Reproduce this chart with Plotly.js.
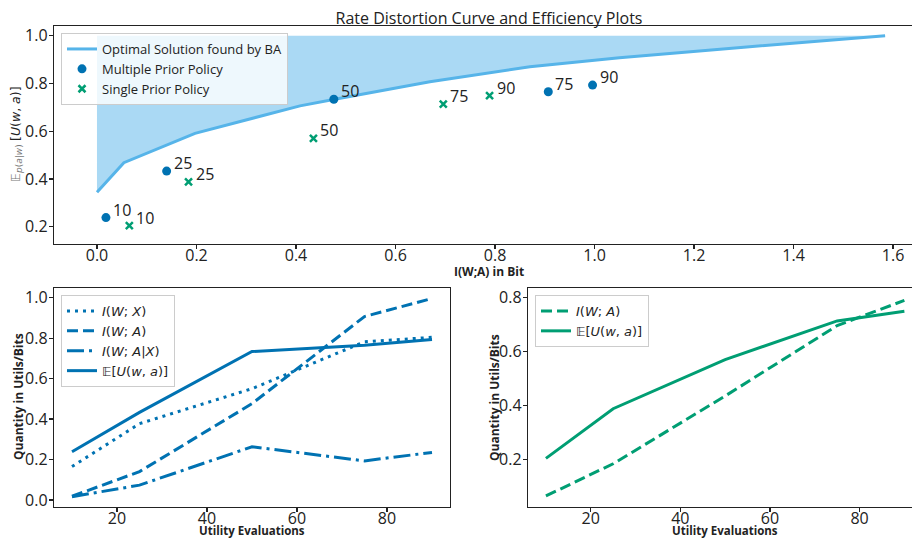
<!DOCTYPE html>
<html><head><meta charset="utf-8">
<script src="https://cdn.plot.ly/plotly-3.0.1.min.js"></script>
<style>html,body{margin:0;padding:0;background:#fff}#chart{width:912px;height:539px}</style>
</head><body><div id="chart"></div>
<script>
// ---- data ----
const baX = [0, 0.054, 0.197, 0.408, 0.478, 0.669, 0.870, 1.05, 1.30, 1.584];
const baY = [0.344, 0.468, 0.591, 0.706, 0.734, 0.807, 0.870, 0.908, 0.952, 1.0];
const fillTop = 1.0;
const evals = [10, 25, 50, 75, 90];
const evalLabels = ['10', '25', '50', '75', '90'];
const multiIWA = [0.018, 0.140, 0.476, 0.907, 0.996];
const multiEU = [0.238, 0.433, 0.734, 0.765, 0.793];
const multiIWX = [0.165, 0.377, 0.55, 0.782, 0.804];
const multiIWAgX = [0.016, 0.073, 0.263, 0.193, 0.235];
const singleIWA = [0.065, 0.184, 0.435, 0.696, 0.789];
const singleEU = [0.204, 0.388, 0.570, 0.713, 0.749];

const BLUE = '#0072B2', GREEN = '#009E73', SKY = '#56B4E9';
const FONT = "'Open Sans', 'Noto Sans', sans-serif";
const MATH = "'DejaVu Sans', sans-serif";
const INK = '#222222';
const W = 912, H = 539;
const px = v => v / W, py = v => 1 - v / H;

const traces = [
  {x: baX, y: baX.map(() => fillTop), mode: 'lines', line: {width: 0, color: SKY}, showlegend: false, hoverinfo: 'skip', xaxis: 'x', yaxis: 'y'},
  {x: baX, y: baY, mode: 'lines', fill: 'tonexty', fillcolor: 'rgba(86,180,233,0.5)', line: {width: 0, color: SKY}, showlegend: false, hoverinfo: 'skip', xaxis: 'x', yaxis: 'y'},
  {x: baX, y: baY, mode: 'lines', line: {color: SKY, width: 3}, name: 'Optimal Solution found by BA', xaxis: 'x', yaxis: 'y', legend: 'legend'},
  {x: multiIWA, y: multiEU, mode: 'markers', marker: {color: BLUE, size: 9, symbol: 'circle'}, name: 'Multiple Prior Policy', xaxis: 'x', yaxis: 'y', legend: 'legend'},
  {x: singleIWA, y: singleEU, mode: 'markers', marker: {color: GREEN, size: 7, symbol: 'x-thin', line: {color: GREEN, width: 2.5}}, name: 'Single Prior Policy', xaxis: 'x', yaxis: 'y', legend: 'legend'},

  {x: evals, y: multiIWX, mode: 'lines', line: {color: BLUE, width: 3, dash: '3px,5px'}, name: '<i>I</i>(<i>W</i>; <i>X</i>)', xaxis: 'x2', yaxis: 'y2', legend: 'legend2'},
  {x: evals, y: multiIWA, mode: 'lines', line: {color: BLUE, width: 3, dash: '11px,5px'}, name: '<i>I</i>(<i>W</i>; <i>A</i>)', xaxis: 'x2', yaxis: 'y2', legend: 'legend2'},
  {x: evals, y: multiIWAgX, mode: 'lines', line: {color: BLUE, width: 3, dash: '17px,5px,3px,5px'}, name: '<i>I</i>(<i>W</i>; <i>A</i>|<i>X</i>)', xaxis: 'x2', yaxis: 'y2', legend: 'legend2'},
  {x: evals, y: multiEU, mode: 'lines', line: {color: BLUE, width: 3}, name: '𝔼[<i>U</i>(<i>w</i>, <i>a</i>)]', xaxis: 'x2', yaxis: 'y2', legend: 'legend2'},

  {x: evals, y: singleIWA, mode: 'lines', line: {color: GREEN, width: 3, dash: '11px,5px'}, name: '<i>I</i>(<i>W</i>; <i>A</i>)', xaxis: 'x3', yaxis: 'y3', legend: 'legend3'},
  {x: evals, y: singleEU, mode: 'lines', line: {color: GREEN, width: 3}, name: '𝔼[<i>U</i>(<i>w</i>, <i>a</i>)]', xaxis: 'x3', yaxis: 'y3', legend: 'legend3'}
];

const annotations = [];
evalLabels.forEach((lab, i) => {
  annotations.push({x: multiIWA[i], y: multiEU[i], xref: 'x', yref: 'y', text: lab, showarrow: false, xanchor: 'left', yanchor: 'middle', xshift: 5, yshift: 8, font: {family: FONT, size: 16, color: INK}});
  annotations.push({x: singleIWA[i], y: singleEU[i], xref: 'x', yref: 'y', text: lab, showarrow: false, xanchor: 'left', yanchor: 'middle', xshift: 5, yshift: 8, font: {family: FONT, size: 16, color: INK}});
});
const lab = (t, x, y, rot, size, family, color) => ({text: t, xref: 'paper', yref: 'paper', x: px(x), y: py(y), showarrow: false, xanchor: 'center', yanchor: 'middle', textangle: rot || 0, font: {family: family || FONT, size: size || 12, color: color || INK}});
annotations.push(lab('<b>I(W;A) in Bit</b>', 489, 271));
// top y-axis title, E_{p(a|w)}[U(w, a)] in three rotated pieces
annotations.push(lab('𝔼', 16, 178, -90, 12, MATH, '#777777'));
annotations.push(lab('<i>p</i>(<i>a</i>|<i>w</i>)', 19, 159, -90, 9, MATH, '#777777'));
annotations.push(lab('[<i>U</i>(<i>w</i>, <i>a</i>)]', 15, 114, -90, 12.5, MATH, INK));
annotations.push(lab('<b>Quantity in Utils/Bits</b>', 18, 397, -90));
annotations.push(lab('<b>Utility Evaluations</b>', 252, 530, 0, 11.5));
annotations.push(lab('<b>Quantity in Utils/Bits</b>', 494, 397, -90));
annotations.push(lab('<b>Utility Evaluations</b>', 725, 530, 0, 11.5));

const axBase = {showline: true, linecolor: INK, linewidth: 1.2, ticks: 'outside', ticklen: 4, tickwidth: 1.2, tickcolor: INK, showgrid: false, zeroline: false, automargin: false, tickfont: {family: FONT, size: 16, color: INK}, fixedrange: true};
const xBase = Object.assign({}, axBase, {ticklabelstandoff: -7});
const yBase = Object.assign({}, axBase, {ticklabelstandoff: -2});
const legBase = {xanchor: 'left', yanchor: 'top', bgcolor: 'rgba(255,255,255,0.8)', bordercolor: '#cccccc', borderwidth: 1, traceorder: 'normal'};

const layout = {
  width: W, height: H, margin: {l: 0, r: 0, t: 0, b: 0}, paper_bgcolor: '#fff', plot_bgcolor: 'rgba(0,0,0,0)',
  title: {text: 'Rate Distortion Curve and Efficiency Plots', x: px(489), y: py(18), xanchor: 'center', yanchor: 'middle', font: {family: FONT, size: 16, color: INK}},
  xaxis: Object.assign({}, xBase, {domain: [px(54), 1], range: [-0.0864, 1.638], tick0: 0, dtick: 0.2, tickformat: '.1f', mirror: true, anchor: 'y'}),
  yaxis: Object.assign({}, yBase, {domain: [py(244), py(26)], range: [0.1275, 1.0406], tick0: 0, dtick: 0.2, tickformat: '.1f', anchor: 'x'}),
  xaxis2: Object.assign({}, xBase, {domain: [px(54), px(450)], range: [6, 94], tick0: 0, dtick: 20, mirror: true, anchor: 'y2'}),
  yaxis2: Object.assign({}, yBase, {domain: [py(507), py(288)], range: [-0.035, 1.048], tick0: 0, dtick: 0.2, tickformat: '.1f', mirror: true, anchor: 'x2'}),
  xaxis3: Object.assign({}, xBase, {domain: [px(528), 1], range: [6, 91.7], tick0: 0, dtick: 20, mirror: true, anchor: 'y3'}),
  yaxis3: Object.assign({}, yBase, {domain: [py(507), py(288)], range: [0.024, 0.835], tick0: 0, dtick: 0.2, tickformat: '.1f', anchor: 'x3'}),
  legend: Object.assign({}, legBase, {x: px(61), y: py(33), font: {family: FONT, size: 13, color: INK}}),
  legend2: Object.assign({}, legBase, {x: px(61), y: py(295), font: {family: MATH, size: 13, color: INK}}),
  legend3: Object.assign({}, legBase, {x: px(535), y: py(295), font: {family: MATH, size: 13, color: INK}}),
  annotations: annotations,
  showlegend: true
};

Plotly.newPlot('chart', traces, layout, {staticPlot: true, displayModeBar: false});
</script>
</body></html>
